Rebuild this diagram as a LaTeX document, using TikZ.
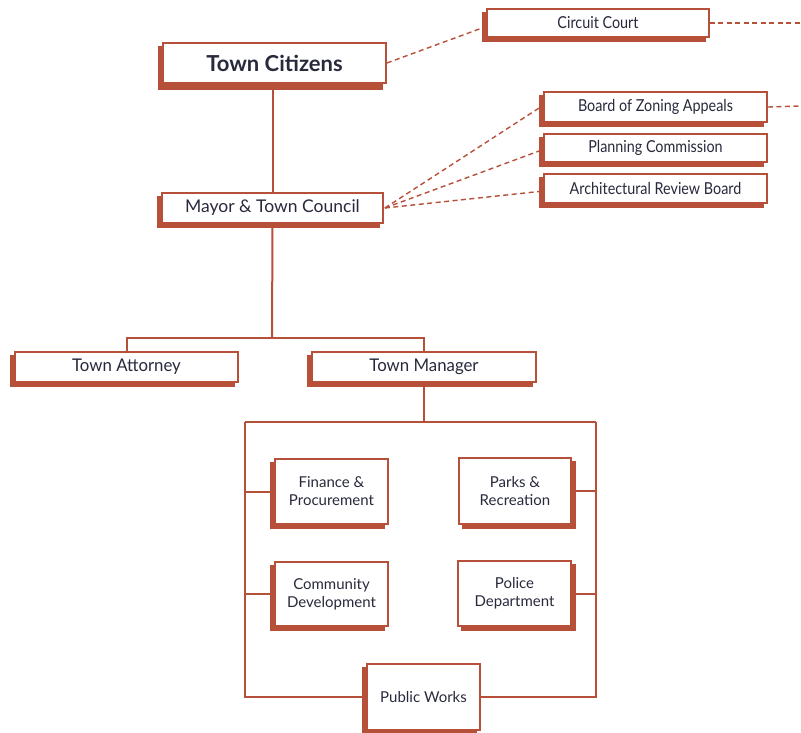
\documentclass[tikz,border=0pt]{standalone}
\usepackage{fontspec}
\setmainfont{Lato}
\newfontfamily\condfont[FakeStretch=0.87]{Lato}
\newfontfamily\semicondfont[FakeStretch=0.96]{Lato}
\usetikzlibrary{shadows,calc}
\definecolor{rust}{RGB}{183,80,56}
\definecolor{ink}{RGB}{40,42,60}
\begin{document}
\begin{tikzpicture}[x=1pt,y=-1pt,
  orgbox/.style={draw=rust, line width=1.8pt, fill=white, text=ink, inner sep=0pt, align=center,
     general shadow={fill=rust, draw=rust, line width=1.8pt, shadow xshift=-4pt, shadow yshift=-4pt}},
  orgboxr/.style={draw=rust, line width=1.8pt, fill=white, text=ink, inner sep=0pt, align=center,
     general shadow={fill=rust, draw=rust, line width=1.8pt, shadow xshift=4pt, shadow yshift=-4pt}},
  wide/.style={minimum width=223pt, minimum height=30pt, font=\condfont\fontsize{16.5}{18}\selectfont},
  small/.style={minimum width=113pt, minimum height=65pt, font=\fontsize{15}{18}\selectfont},
  conn/.style={draw=rust, line width=2pt},
  dconn/.style={draw=rust, line width=1.4pt, dash pattern=on 5pt off 3.5pt}
]
\useasboundingbox (0,0) rectangle (801,733);
% nodes
\node[orgbox, wide, minimum height=40pt, font=\fontsize{22}{24}\selectfont\bfseries,
  general shadow={fill=rust, draw=rust, line width=1.8pt, shadow xshift=-4pt, shadow yshift=-6pt}] (TC) at (274.5,63) {Town Citizens};
\node[orgbox, wide, minimum width=222pt, minimum height=28pt] (CC) at (598,23) {Circuit Court};
\node[orgbox, wide, minimum height=30pt] (BZA) at (655.5,107) {Board of Zoning Appeals};
\node[orgbox, wide, minimum height=28pt] (PC) at (655.5,148) {Planning Commission};
\node[orgbox, wide, minimum height=29pt] (ARB) at (655.5,188.5) {Architectural Review Board};
\node[orgbox, wide, minimum width=221pt, font=\fontsize{17.5}{18}\selectfont] (MTC) at (272.5,208) {Mayor \& Town Council};
\node[orgbox, wide, font=\semicondfont\fontsize{17.5}{18}\selectfont] (TA) at (126.5,367) {Town Attorney};
\node[orgbox, wide, minimum width=224pt, font=\semicondfont\fontsize{17.5}{18}\selectfont] (TM) at (424,367) {Town Manager};
\node[orgbox, small] (FIN) at (331.5,491.5) {Finance \&\\Procurement};
\node[orgboxr, small, minimum width=112pt, minimum height=66pt] (PR) at (515,491) {Parks \&\\Recreation};
\node[orgbox, small, minimum height=64pt] (CD) at (331.5,594) {Community\\Development};
\node[orgboxr, small] (PD) at (514.5,593.5) {Police\\Department};
\node[orgbox, small, minimum height=66pt] (PW) at (423.5,697) {Public Works};
% coordinates
\coordinate (bus) at (272,338);
\coordinate (L) at (245,422);
\coordinate (R) at (596,422);
\coordinate (CCr) at (801,23);
\coordinate (BZAr) at (801,106);
% solid connectors
\draw[conn] (MTC.north |- TC.south) -- (MTC.north);
\draw[conn] (MTC.south) -- (bus);
\draw[conn] (TA.north) |- (bus) -| (TM.north);
\draw[conn] (TM.south) -- (TM.south |- L);
\draw[conn] (L) -- (R);
\draw[conn] (L) |- (PW.west);
\draw[conn] (R) |- (PW.east);
\draw[conn] (L |- FIN.west) -- ([xshift=-4pt]FIN.west);
\draw[conn] (L |- CD.west) -- ([xshift=-4pt]CD.west);
\draw[conn] (R |- PR.east) -- ([xshift=4pt]PR.east);
\draw[conn] (R |- PD.east) -- ([xshift=4pt]PD.east);
% dashed connectors
\draw[dconn] (TC.east) -- ([xshift=-4pt,yshift=-5pt]CC.west);
\draw[dconn] (CC.east) -- (CCr);
\draw[dconn] (BZA.east) -- (BZAr);
\draw[dconn] ([xshift=1pt]MTC.east) -- ([xshift=-4pt,yshift=-1pt]BZA.west);
\draw[dconn] ([xshift=1pt]MTC.east) -- ([xshift=-4pt,yshift=-3pt]PC.west);
\draw[dconn] ([xshift=1pt]MTC.east) -- ([xshift=-4pt,yshift=-3pt]ARB.west);
\end{tikzpicture}
\end{document}
